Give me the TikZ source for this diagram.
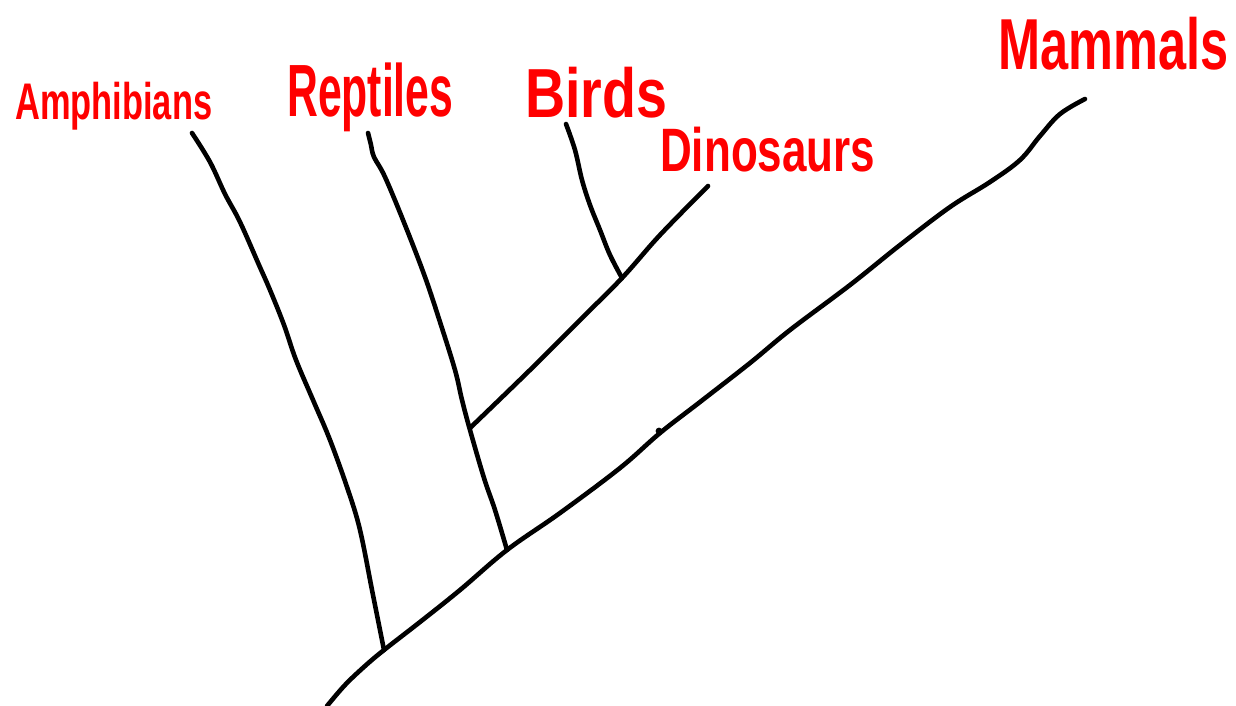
\documentclass[tikz,border=0pt]{standalone}
\usepackage{fontspec}
\setmainfont{Liberation Sans}
\usepackage{graphicx}
\begin{document}
\begin{tikzpicture}[x=1pt,y=-1pt,
  branch/.style={line width=4.6pt,line cap=round,line join=round,black},
  lbl/.style={text=red,inner sep=0pt,anchor=north west,font=\bfseries}]
\useasboundingbox (0,0) rectangle (1236,706);
\coordinate (rootA) at (384,650);
\coordinate (rootR) at (507,550);
\coordinate (rootD) at (470,428);
\coordinate (rootB) at (622,278);
% main (mammals) line
\draw[branch] plot[smooth,tension=0.6] coordinates {(327,706) (345,685) (365,666) (rootA) (420,622) (460,590) (rootR) (560,513) (620,468) (660,433) (700,402) (750,363) (790,330) (850,285) (900,245) (950,207) (990,182) (1020,160) (1040,136) (1060,114) (1085,99)};
\fill (659,431) circle (3.4);
% amphibians
\draw[branch] plot[smooth,tension=0.6] coordinates {(rootA) (378,620) (372,590) (360,530) (348,490) (330,440) (313,400) (296,360) (284,325) (270,290) (259,265) (240,222) (225,194) (210,162) (192,133)};
% reptiles
\draw[branch] plot[smooth,tension=0.6] coordinates {(rootR) (495,510) (484,478) (470,430) (462,400) (455,370) (440,322) (425,277) (405,225) (385,177) (374,157) (371,145) (368,133)};
% dinosaurs
\draw[branch] plot[smooth,tension=0.6] coordinates {(rootD) (530,370) (580,320) (rootB) (660,235) (708,186)};
% birds
\draw[branch] plot[smooth,tension=0.6] coordinates {(rootB) (610,255) (600,230) (590,205) (582,180) (575,150) (566,124)};
% labels
\node[lbl] (amph) at (15,82) {\resizebox*{197pt}{48pt}{Amphibians}};
\node[lbl] (rept) at (287,63) {\resizebox*{166pt}{69pt}{Reptiles}};
\node[lbl] (bird) at (525,67) {\resizebox*{142pt}{51pt}{Birds}};
\node[lbl] (dino) at (660,127) {\resizebox*{215pt}{45pt}{Dinosaurs}};
\node[lbl] (mamm) at (998,17) {\resizebox*{230pt}{53pt}{Mammals}};
\end{tikzpicture}
\end{document}
